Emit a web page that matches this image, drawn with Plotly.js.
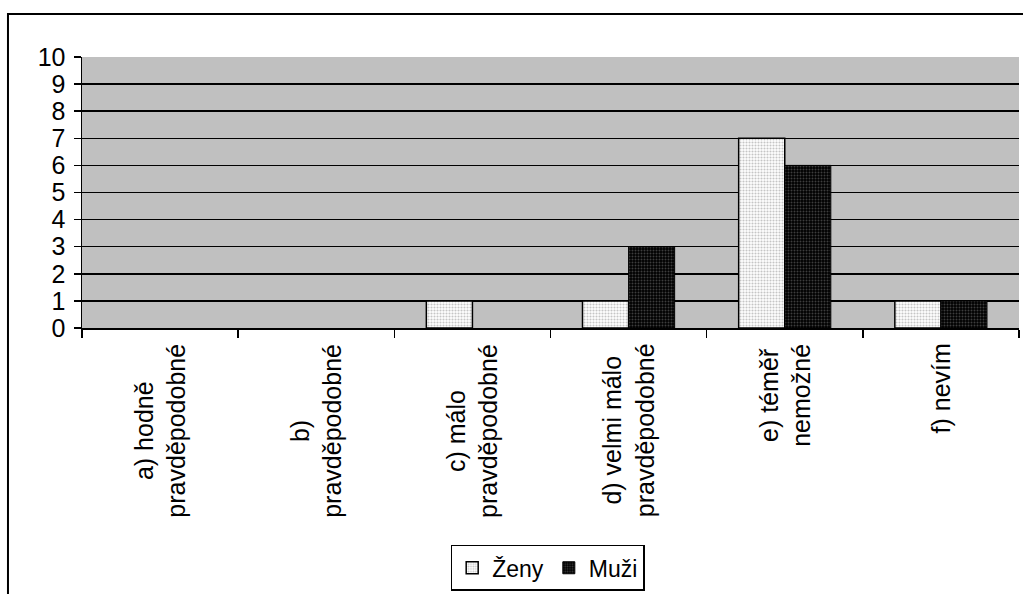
<!DOCTYPE html>
<html><head><meta charset="utf-8">
<script src="https://cdn.plot.ly/plotly-3.0.1.min.js"></script>
<style>html,body{margin:0;padding:0;background:#fff;}</style>
</head><body>
<div id="chart" style="width:1023px;height:594px;"></div>
<script>
const categories = ["a) hodně<br>pravděpodobné","b)<br>pravděpodobné","c) málo<br>pravděpodobné","d) velmi málo<br>pravděpodobné","e) téměř<br>nemožné","f) nevím"];
const zeny = [0,0,1,1,7,1];
const muzi = [0,0,0,3,6,1];
const yTicks = [0,1,2,3,4,5,6,7,8,9,10];
const seriesNames = ["Ženy","Muži"];

const FONT = "Liberation Sans, Arial, sans-serif";
const hideZero = v => (v === 0 ? null : v);
const traces = [
  {type:'bar', name:seriesNames[0], x:categories, y:zeny.map(hideZero),
   marker:{color:'#ffffff', line:{color:'#000', width:1.5},
     pattern:{shape:'.', bgcolor:'#ffffff', fgcolor:'#8c8c8c', size:3, solidity:0.4, fillmode:'overlay'}}},
  {type:'bar', name:seriesNames[1], x:categories, y:muzi.map(hideZero),
   marker:{color:'#000000', line:{color:'#000', width:1},
     pattern:{shape:'.', bgcolor:'#000000', fgcolor:'#7a7a7a', size:3, solidity:0.35, fillmode:'overlay'}}}
];
const annotations = categories.map(c => ({
  x:c, xref:'x', y:-0.05, yref:'paper', text:c, showarrow:false,
  textangle:-90, xanchor:'center', yanchor:'top', align:'center',
  font:{family:FONT, size:25, color:'#000'}
}));
const layout = {
  width:1023, height:594,
  margin:{l:82, r:4, t:57, b:266},
  paper_bgcolor:'#ffffff', plot_bgcolor:'#c0c0c0',
  barmode:'group', bargap:0.41, bargroupgap:0,
  showlegend:true,
  legend:{orientation:'h', x:0.497, xanchor:'center', y:-0.80, yanchor:'top',
    bordercolor:'#000', borderwidth:1.5, bgcolor:'#fff',
    font:{family:FONT, size:23, color:'#000'}, itemwidth:30, tracegroupgap:0},
  xaxis:{type:'category', showticklabels:false, ticks:'outside', tickson:'boundaries',
    ticklen:8, tickwidth:1.5, tickcolor:'#000', showline:true, linecolor:'#000', linewidth:1.5,
    showgrid:false, zeroline:false, fixedrange:true},
  yaxis:{range:[0,10], tickvals:yTicks, ticktext:yTicks.map(String), ticks:'outside', ticklen:7, tickwidth:1.5,
    tickcolor:'#000', showline:true, linecolor:'#000', linewidth:1.5, ticklabelstandoff:3,
    showgrid:true, gridcolor:'#000', gridwidth:1.5, zeroline:false,
    tickfont:{family:FONT, size:25, color:'#000'}, fixedrange:true},
  annotations:annotations,
  shapes:[{type:'rect', xref:'paper', yref:'paper', x0:-0.079, x1:1.2, y0:-1.2, y1:1.1587,
    line:{color:'#000', width:2}, fillcolor:'rgba(0,0,0,0)', layer:'below'}]
};
Plotly.newPlot('chart', traces, layout, {displayModeBar:false, staticPlot:true});
</script>
</body></html>
